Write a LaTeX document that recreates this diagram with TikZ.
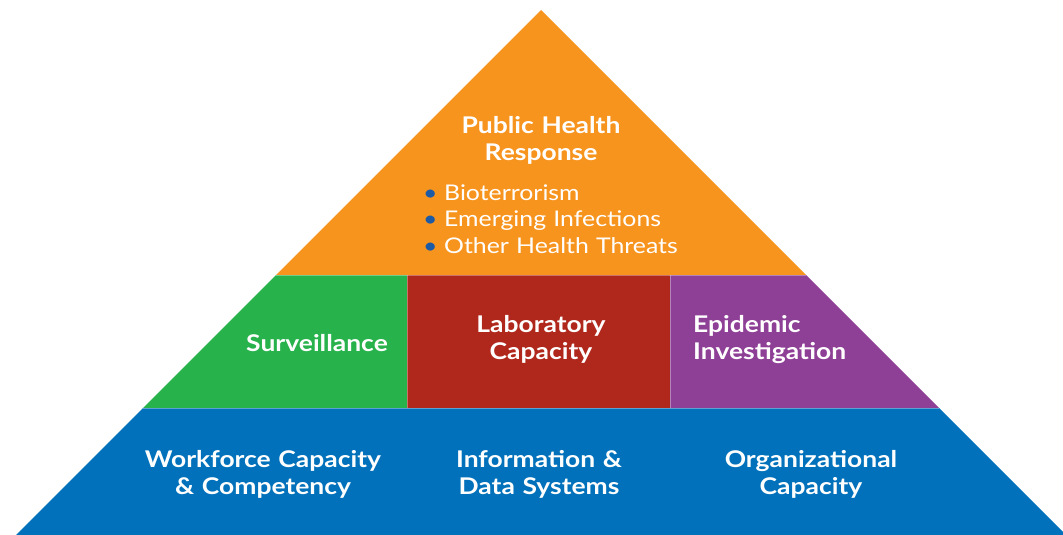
\documentclass[tikz,border=0pt]{standalone}
\usepackage{fontspec}
\setmainfont{Lato}[FakeStretch=1.15]
\definecolor{orangeC}{HTML}{F7941E}
\definecolor{greenC}{HTML}{27B24C}
\definecolor{redC}{HTML}{B0281C}
\definecolor{purpleC}{HTML}{8E3F96}
\definecolor{blueC}{HTML}{0071BA}
\definecolor{bulletC}{HTML}{1C5AA6}
\tikzset{
  lbl/.style={text=white, font=\bfseries\fontsize{23}{27}\selectfont, inner sep=0pt, anchor=base},
  lst/.style={text=white, font=\fontsize{21.6}{26.5}\selectfont, inner sep=0pt, anchor=base west, align=left, text width=320pt},
  sep/.style={white, opacity=0.35, line width=0.8pt}
}
\newcommand{\blt}{\makebox[21pt][l]{\textcolor{bulletC}{\textbullet}}}
\begin{document}
\begin{tikzpicture}[x=1pt,y=-1pt]
\useasboundingbox (0,0) rectangle (1063,535);
\begin{scope}
\clip (0,0) rectangle (1063,535);
\fill[orangeC] (541,10) -- (806,275) -- (276,275) -- cycle;
\fill[greenC] (276,275) -- (407,275) -- (407,408) -- (143,408) -- cycle;
\fill[redC] (407,275) rectangle (670,408);
\fill[purpleC] (670,275) -- (806,275) -- (939,408) -- (670,408) -- cycle;
\fill[blueC] (143,408) -- (939,408) -- (1066,535) -- (16,535) -- cycle;
\draw[sep] (276,275) -- (806,275);
\draw[sep] (143,408) -- (939,408);
\draw[sep] (407,275) -- (407,408);
\draw[sep] (670,275) -- (670,408);
\end{scope}
\node[lbl, text width=280pt, align=center] (phr) at (541,133) {Public Health\\Response};
\node[lst] (threats) at (423,200) {\blt Bioterrorism\\\blt Emerging Infections\\\blt Other Health Threats};
\node[lbl, anchor=base east] (surv) at (388,351) {Surveillance};
\node[lbl, text width=250pt, align=center] (lab) at (541,332) {Laboratory\\Capacity};
\node[lbl, anchor=base west, text width=220pt, align=left] (epi) at (693,332) {Epidemic\\Investigation};
\node[lbl, text width=270pt, align=center] (work) at (263,467) {Workforce Capacity\\\& Competency};
\node[lbl, text width=260pt, align=center] (info) at (539,467) {Information \&\\Data Systems};
\node[lbl, text width=260pt, align=center] (org) at (811,467) {Organizational\\Capacity};
\end{tikzpicture}
\end{document}
